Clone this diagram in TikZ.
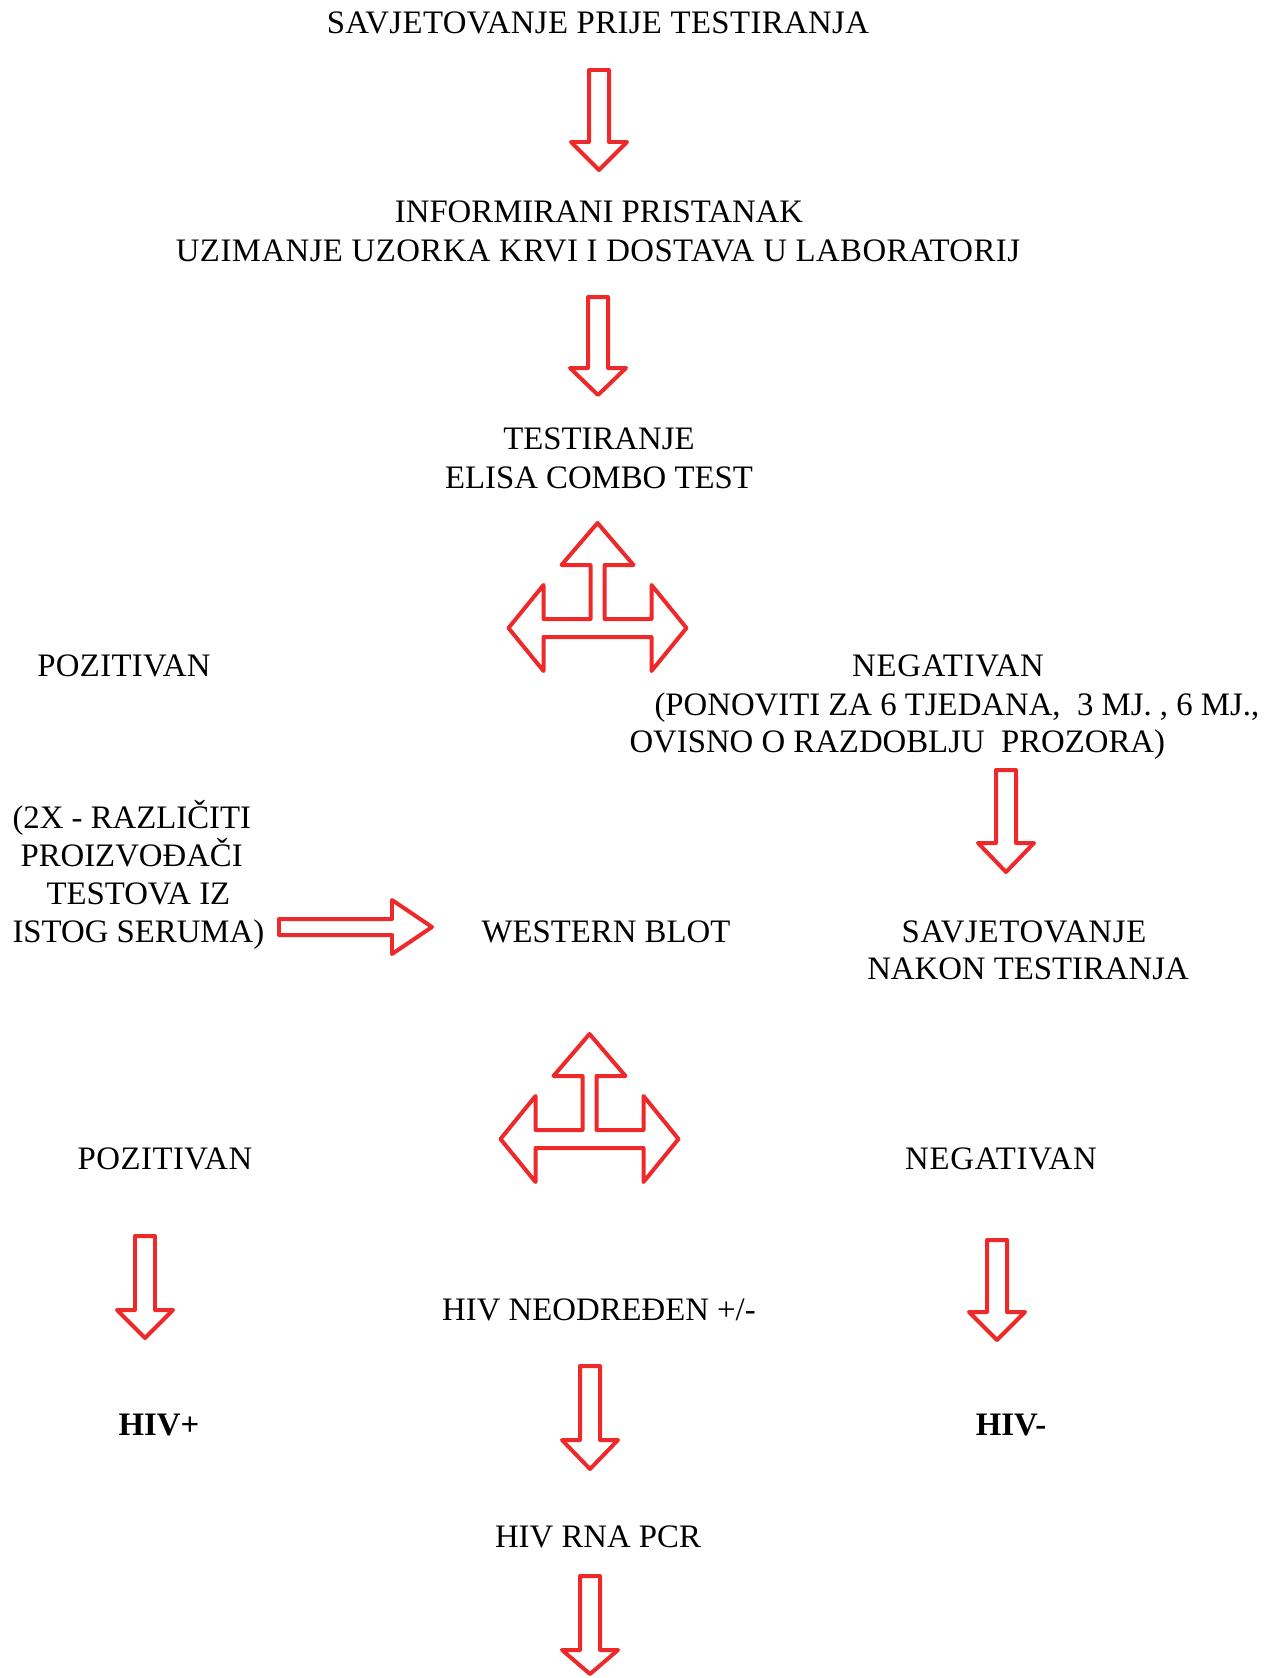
\documentclass[tikz,border=0pt]{standalone}
\usepackage{fontspec}
\setmainfont{Liberation Serif}
\definecolor{arrowred}{RGB}{237,41,41}
\tikzset{
  flowtext/.style={anchor=base, inner sep=0pt, font=\fontsize{12}{14}\selectfont},
  widetext/.style={flowtext, font=\fontsize{12}{14}\selectfont\addfontfeatures{LetterSpace=#1}},
  boldtext/.style={flowtext, font=\fontsize{12}{14}\selectfont\bfseries},
  blockarrow/.style={draw=arrowred, line width=1.46pt, line join=round},
}
% down arrow: centre x, top, start of head, tip
\newcommand{\downblock}[4]{%
  \draw[blockarrow] ({#1-10},#2) -- ({#1+10},#2) -- ({#1+10},#3) -- ({#1+28},#3)
    -- (#1,#4) -- ({#1-28},#3) -- ({#1-10},#3) -- cycle;}
% right arrow: left x, centre y, start of head, tip
\newcommand{\rightblock}[4]{%
  \draw[blockarrow] (#1,{#2-8}) -- (#3,{#2-8}) -- (#3,{#2-27}) -- (#4,#2)
    -- (#3,{#2+27}) -- (#3,{#2+8}) -- (#1,{#2+8}) -- cycle;}
% three way arrow: centre x, centre y of the bar
\newcommand{\triblock}[2]{%
  \draw[blockarrow] ({#1-89},#2) -- ({#1-54},{#2-43}) -- ({#1-54},{#2-9})
    -- ({#1-7},{#2-9}) -- ({#1-7},{#2-63}) -- ({#1-36},{#2-63}) -- (#1,{#2-105})
    -- ({#1+36},{#2-63}) -- ({#1+7},{#2-63}) -- ({#1+7},{#2-9}) -- ({#1+54},{#2-9})
    -- ({#1+54},{#2-43}) -- ({#1+89},#2) -- ({#1+54},{#2+43}) -- ({#1+54},{#2+9})
    -- ({#1-54},{#2+9}) -- ({#1-54},{#2+43}) -- cycle;}
\begin{document}
\begin{tikzpicture}[x=0.366pt, y=-0.366pt]
\useasboundingbox (0,0) rectangle (1271,1678);
\node[widetext=1.2] (pre) at (598,33) {SAVJETOVANJE PRIJE TESTIRANJA};
\downblock{599}{70}{142}{170}
\node[flowtext] (consent) at (599,222) {INFORMIRANI PRISTANAK};
\node[widetext=1.4] (sample) at (598,261) {UZIMANJE UZORKA KRVI I DOSTAVA U LABORATORIJ};
\downblock{598}{297}{368}{395}
\node[flowtext] (test) at (599,449) {TESTIRANJE};
\node[flowtext] (elisa) at (599,488) {ELISA COMBO TEST};
\triblock{597.5}{628}
\node[widetext=1] (posA) at (124,676) {POZITIVAN};
\node[widetext=2.5] (negA) at (948,676) {NEGATIVAN};
\node[flowtext, anchor=base west] (repeatA) at (654,715) {(PONOVITI ZA 6 TJEDANA,\ \ 3 MJ. , 6 MJ.,};
\node[flowtext, anchor=base west] (repeatB) at (629,752) {OVISNO O RAZDOBLJU\ \ PROZORA)};
\downblock{1006}{770}{843}{872}
\node[flowtext, anchor=base west] (twiceA) at (12,828) {(2X - RAZLIČITI};
\node[flowtext, anchor=base west] (twiceB) at (20,866) {PROIZVOĐAČI};
\node[flowtext, anchor=base west] (twiceC) at (46,904) {TESTOVA IZ};
\node[flowtext, anchor=base west] (twiceD) at (12,942) {ISTOG SERUMA)};
\rightblock{279}{927}{392}{432}
\node[flowtext] (wb) at (606,942) {WESTERN BLOT};
\node[widetext=2.2] (postA) at (1024,942) {SAVJETOVANJE};
\node[flowtext] (postB) at (1028,979) {NAKON TESTIRANJA};
\triblock{589.5}{1139}
\node[widetext=1.5] (posB) at (165,1169) {POZITIVAN};
\node[widetext=2.5] (negB) at (1001,1169) {NEGATIVAN};
\downblock{145}{1236}{1310}{1338}
\downblock{997}{1240}{1312}{1340}
\node[flowtext] (indet) at (599,1320) {HIV NEODREĐEN +/-};
\node[boldtext] (hivpos) at (159,1435) {HIV+};
\node[boldtext] (hivneg) at (1011,1435) {HIV-};
\downblock{590}{1366}{1440}{1469}
\node[flowtext] (pcr) at (598,1547) {HIV RNA PCR};
\downblock{590}{1576}{1650}{1674}
\end{tikzpicture}
\end{document}
